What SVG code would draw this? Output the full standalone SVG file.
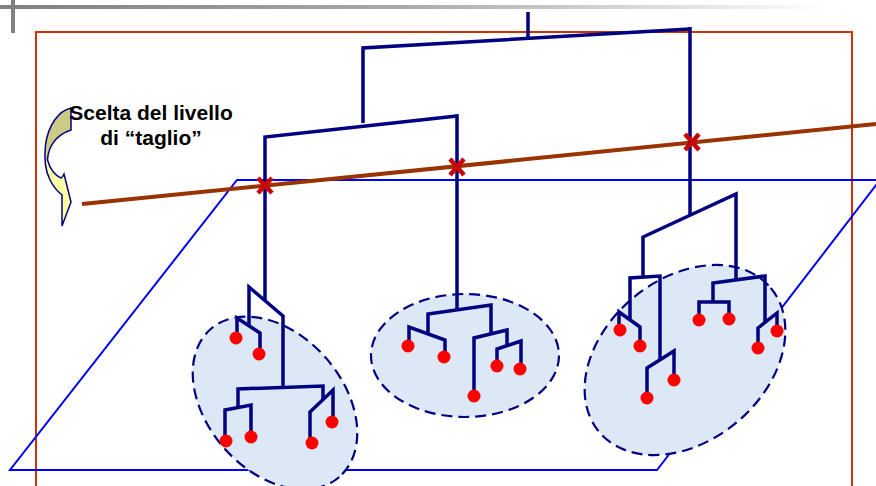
<svg xmlns="http://www.w3.org/2000/svg" width="876" height="486" viewBox="0 0 876 486">
<defs>
<linearGradient id="topbar" x1="0" y1="0" x2="1" y2="0">
<stop offset="0" stop-color="#808080"/>
<stop offset="0.45" stop-color="#a8a8a8"/>
<stop offset="0.95" stop-color="#ffffff"/>
</linearGradient>
<linearGradient id="arrowfill" gradientUnits="userSpaceOnUse" x1="0" y1="108" x2="0" y2="227">
<stop offset="0" stop-color="#c8c884"/>
<stop offset="0.43" stop-color="#d0d08a"/>
<stop offset="0.46" stop-color="#ffffa8"/>
<stop offset="1" stop-color="#ffff99"/>
</linearGradient>
</defs>
<style>
.frame{fill:none;stroke:#cc3300;stroke-width:2}
.plane{fill:none;stroke:#0000ff;stroke-width:2}
.cut{stroke:#993300;stroke-width:4;stroke-linecap:butt}
.clu{fill:#dce8f5;stroke:#000080;stroke-width:2.2;stroke-dasharray:11 6}
.link{fill:none;stroke:#000080;stroke-width:3.5;stroke-linejoin:miter;stroke-linecap:butt}
.leaf{fill:#ff0000}
.xm{stroke:#cc0000;stroke-width:4.5;stroke-linecap:butt}
.lbl{font-family:"Liberation Sans",Arial,sans-serif;font-weight:bold;font-size:21px;fill:#000000;text-anchor:middle}
</style>
<rect width="876" height="486" fill="#ffffff"/>
<g id="slide-deco">
<rect x="0" y="5" width="876" height="4" fill="url(#topbar)"/>
<rect x="11" y="0" width="4" height="33" fill="#808080"/>
</g>
<g id="frame"><rect class="frame" x="36" y="32" width="816" height="470"/></g>
<g id="plane"><polygon class="plane" points="237,180 880,180 657,470 10,470"/></g>
<g id="cluster1">
<ellipse class="clu" cx="275" cy="403" rx="98" ry="68" transform="rotate(49 275 403)"/>
</g>
<g id="cluster2">
<ellipse class="clu" cx="465" cy="355.5" rx="94" ry="61.5"/>
</g>
<g id="cluster3">
<ellipse class="clu" cx="685" cy="360" rx="112" ry="81" transform="rotate(-40 685 360)"/>
</g>
<g id="cut-line"><line class="cut" x1="82" y1="204" x2="876" y2="124"/></g>
<g id="connectors">
<path class="link" d="M528,12V38"/>
<path class="link" d="M363,123V48L690,29"/>
<path class="link" d="M690,27V215"/>
<path class="link" d="M265,301V137L457,116V310"/>
<path class="link" d="M249,326V287L283,316V388"/>
<path class="link" d="M238,408V389L323,386V400"/>
<path class="link" d="M237,338V318L260,333V354"/>
<path class="link" d="M225,441V410L251,405V437"/>
<path class="link" d="M310,443V412L333,390V422"/>
<path class="link" d="M428,334V314L491,305V334"/>
<path class="link" d="M409,346V327L445,340V357"/>
<path class="link" d="M474,396V338L507,330V346"/>
<path class="link" d="M497,366V349L521,341V369"/>
<path class="link" d="M643,278V237L736,194V280"/>
<path class="link" d="M630,320V278L660,276V360"/>
<path class="link" d="M619,330V312L640,327V346"/>
<path class="link" d="M647,398V368L674,351V380"/>
<path class="link" d="M713,302V283L765,276V322"/>
<path class="link" d="M699,320V302L729,302V319"/>
<path class="link" d="M758,348V328L777,313V331"/>
</g>
<g id="leaves">
<circle class="leaf" cx="236" cy="338" r="6.5"/>
<circle class="leaf" cx="259" cy="354" r="6.5"/>
<circle class="leaf" cx="226" cy="441" r="6.5"/>
<circle class="leaf" cx="251" cy="437" r="6.5"/>
<circle class="leaf" cx="312" cy="443" r="6.5"/>
<circle class="leaf" cx="332" cy="422" r="6.5"/>
<circle class="leaf" cx="408" cy="346" r="6.5"/>
<circle class="leaf" cx="444" cy="357" r="6.5"/>
<circle class="leaf" cx="474" cy="396" r="6.5"/>
<circle class="leaf" cx="497" cy="366" r="6.5"/>
<circle class="leaf" cx="520" cy="369" r="6.5"/>
<circle class="leaf" cx="620" cy="330" r="6.5"/>
<circle class="leaf" cx="640" cy="346" r="6.5"/>
<circle class="leaf" cx="647" cy="398" r="6.5"/>
<circle class="leaf" cx="674" cy="380" r="6.5"/>
<circle class="leaf" cx="699" cy="320" r="6.5"/>
<circle class="leaf" cx="729" cy="319" r="6.5"/>
<circle class="leaf" cx="758" cy="348" r="6.5"/>
<circle class="leaf" cx="777" cy="331" r="6.5"/>
</g>
<g id="cut-marks">
<path class="xm" d="M258,178L272,193M272,178L258,193"/>
<path class="xm" d="M450,159L464,175M464,159L450,175"/>
<path class="xm" d="M685,134L699,150M699,134L685,150"/>
</g>
<g id="arrow">
<path d="M71,108C58,111 48,126 45.5,145C44,158 45,170 50,180C53,186 57,191 62,195L62,226L71,202L64,174C63,176 62,178 61,178C56,176 50,170 47.5,160C48,148 55,135 71,130Z" fill="url(#arrowfill)" stroke="#000080" stroke-width="1.5" stroke-linejoin="miter"/>
</g>
<g id="label">
<text class="lbl" x="151" y="120">Scelta del livello</text>
<text class="lbl" x="151" y="145">di “taglio”</text>
</g>
</svg>
